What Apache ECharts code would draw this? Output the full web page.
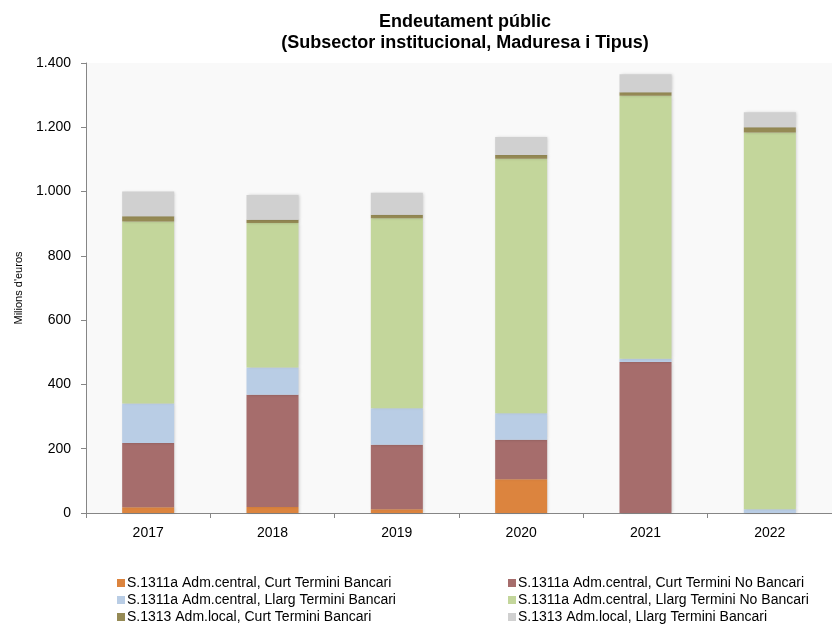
<!DOCTYPE html>
<html>
<head>
<meta charset="utf-8">
<script src="https://cdn.jsdelivr.net/npm/echarts@6/dist/echarts.min.js"></script>
<style>html,body{margin:0;padding:0;background:#fff}#c{width:832px;height:626px}</style>
</head>
<body>
<div id="c"></div>
<script>
const categories = ['2017', '2018', '2019', '2020', '2021', '2022'];
const seriesNames = [
  'S.1311a Adm.central, Curt Termini Bancari',
  'S.1311a Adm.central, Curt Termini No Bancari',
  'S.1311a Adm.central, Llarg Termini Bancari',
  'S.1311a Adm.central, Llarg Termini No Bancari',
  'S.1313 Adm.local, Curt Termini Bancari',
  'S.1313 Adm.local, Llarg Termini Bancari'
];
const curtBancari     = [18, 19, 12, 105, 0, 0];
const curtNoBancari   = [200, 349, 200, 123, 470, 0];
const llargBancari    = [123, 85, 114, 82, 10, 12];
const llargNoBancari  = [566, 449, 591, 792, 818, 1172];
const localCurt       = [16, 10, 11, 12, 11, 16];
const localLlarg      = [77, 77, 68, 56, 56, 47];
const yTicks = [0, 200, 400, 600, 800, 1000, 1200, 1400];

const colors = ['#DC843E', '#A66D6C', '#B9CDE5', '#C3D69B', '#958A55', '#D0D0D0'];
const values = [curtBancari, curtNoBancari, llargBancari, llargNoBancari, localCurt, localLlarg];

const series = values.map((v, i) => ({
  name: seriesNames[i],
  type: 'bar',
  stack: 'total',
  barWidth: 52,
  data: v,
  itemStyle: { color: colors[i], shadowBlur: 3, shadowColor: 'rgba(0,0,0,0.18)', shadowOffsetX: 1 },
  emphasis: { disabled: true }
}));

const fmt = v => v >= 1000 ? (String(v).slice(0, -3) + '.' + String(v).slice(-3)) : String(v);

const chart = echarts.init(document.getElementById('c'), null, { renderer: 'canvas' });
const legendCommon = {
  type: 'plain', orient: 'vertical', itemGap: 3, itemWidth: 8, itemHeight: 8, icon: 'rect',
  padding: 0, height: 60,
  textStyle: { fontFamily: 'Liberation Sans', fontSize: 14, lineHeight: 14, color: '#000', padding: [0, 0, 0, -3] },
  selectedMode: false
};
chart.setOption({
  animation: false,
  backgroundColor: '#fff',
  title: {
    text: 'Endeutament públic\n(Subsector institucional, Maduresa i Tipus)',
    left: 460, top: 7, textAlign: 'center',
    textStyle: { fontFamily: 'Liberation Sans', fontWeight: 'bold', fontSize: 18, lineHeight: 21, color: '#000' }
  },
  legend: [
    Object.assign({}, legendCommon, { left: 117, top: 576, data: [seriesNames[0], seriesNames[2], seriesNames[4]] }),
    Object.assign({}, legendCommon, { left: 508, top: 576, data: [seriesNames[1], seriesNames[3], seriesNames[5]] })
  ],
  grid: { left: 86, right: -16, top: 63, bottom: 113, show: true, backgroundColor: '#F9F9F9', borderWidth: 0 },
  xAxis: {
    type: 'category', data: categories,
    axisLine: { lineStyle: { color: '#868686', width: 1 } },
    axisTick: { show: true, length: 5, lineStyle: { color: '#868686' } },
    axisLabel: { fontFamily: 'Liberation Sans', fontSize: 14, color: '#000', margin: 13 }
  },
  yAxis: {
    type: 'value', min: yTicks[0], max: yTicks[yTicks.length - 1], interval: 200,
    name: "Milions d'euros", nameLocation: 'middle', nameGap: 62, nameRotate: 90,
    nameTextStyle: { fontFamily: 'Liberation Sans', fontSize: 11, color: '#000' },
    axisLine: { show: true, lineStyle: { color: '#868686' } },
    axisTick: { show: true, length: 5, lineStyle: { color: '#868686' } },
    splitLine: { show: false },
    axisLabel: { fontFamily: 'Liberation Sans', fontSize: 14, color: '#000', margin: 15, formatter: fmt }
  },
  series: series
});
</script>
</body>
</html>
